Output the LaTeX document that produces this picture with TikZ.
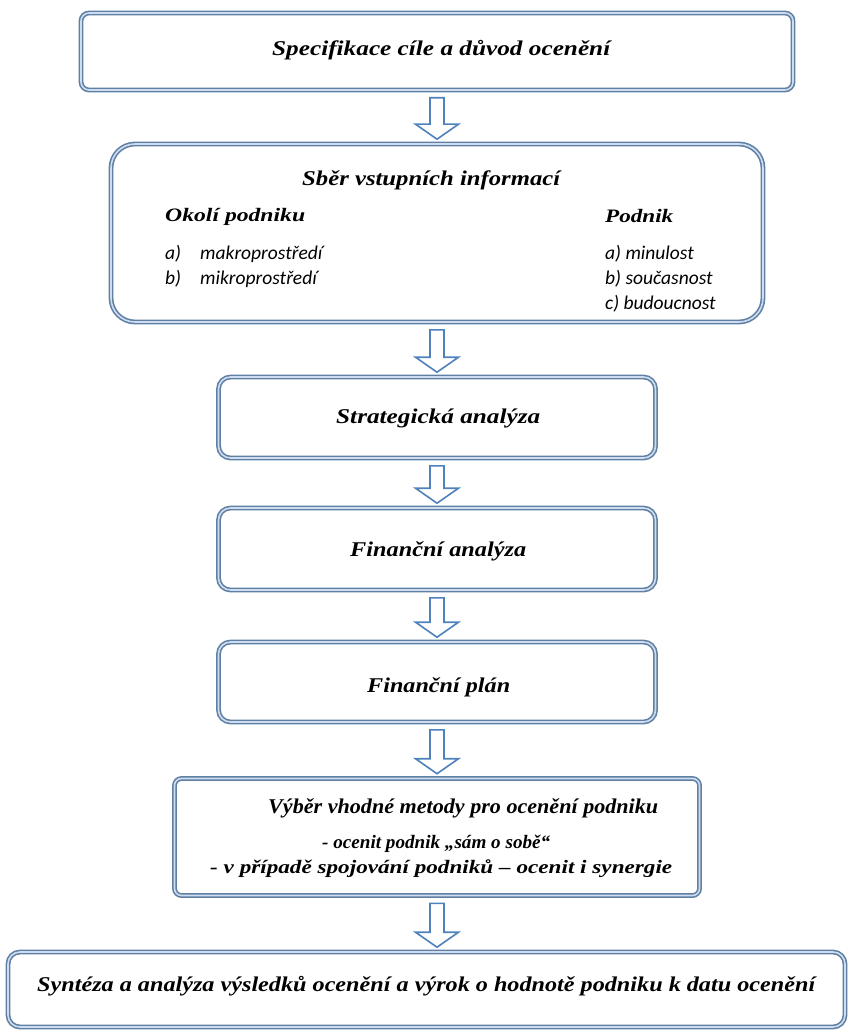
\documentclass[tikz,border=0pt]{standalone}
\usepackage{fontspec}
\usepackage{graphicx}
\setmainfont{Liberation Serif}
\newfontfamily\itemfont{Carlito}
\usetikzlibrary{calc}
\definecolor{bordo}{RGB}{96,128,163}
\definecolor{borli}{RGB}{205,220,240}
\definecolor{arrowblue}{RGB}{79,129,189}
\tikzset{
 box/.style={draw=bordo, double=borli, line width=1.6pt, double distance=1.6pt, fill=white, inner sep=0pt},
 ttl/.style={font=\fontsize{21}{25}\selectfont\bfseries\itshape, inner sep=0pt, anchor=west},
 barrow/.style={draw=arrowblue, line width=1.6pt, fill=white, line join=miter},
 itemtxt/.style={font=\fontsize{19.5}{23}\selectfont\itemfont\itshape, anchor=west, inner sep=0pt},
 subttl/.style={font=\fontsize{19}{22}\selectfont\bfseries\itshape, anchor=west, inner sep=0pt},
 linetxt/.style={font=\fontsize{19}{23}\selectfont\bfseries\itshape, inner sep=0pt, anchor=west},
}
\newcommand{\wfit}[2]{\resizebox{#1pt}{\height}{#2}}
\newcommand{\blockarr}[2]{%
 \draw[barrow] let \p1=(#1.south), \p2=(#2.north) in
   (\x1-7pt,\y1-7pt) -- (\x1-7pt,\y2+19pt) -- (\x1-21.5pt,\y2+19pt)
   -- (\x1,\y2+4pt) -- (\x1+21.5pt,\y2+19pt) -- (\x1+7pt,\y2+19pt)
   -- (\x1+7pt,\y1-7pt) -- cycle;}
\begin{document}
\begin{tikzpicture}[x=1pt,y=-1pt]
\useasboundingbox (0,0) rectangle (849,1030);
% boxes
\node[box, rounded corners=8pt, minimum width=712pt, minimum height=77pt] (b1) at (437,51.5) {};
\node[box, rounded corners=24pt, minimum width=652pt, minimum height=178pt] (b2) at (437,233) {};
\node[box, rounded corners=12pt, minimum width=437pt, minimum height=81pt] (b3) at (437,417.5) {};
\node[box, rounded corners=12pt, minimum width=437pt, minimum height=82pt] (b4) at (437,549) {};
\node[box, rounded corners=12pt, minimum width=437pt, minimum height=80pt] (b5) at (437,682) {};
\node[box, rounded corners=7pt, minimum width=525pt, minimum height=117pt] (b6) at (437,837) {};
\node[box, rounded corners=12pt, minimum width=837pt, minimum height=75pt] (b7) at (426.5,989.5) {};
% titles
\node[ttl] (t1) at (272,50) {\wfit{338}{Specifikace cíle a důvod ocenění}};
\node[ttl] (t2) at (302,180) {\wfit{258}{Sběr vstupních informací}};
\node[ttl] (t3) at (336,418) {\wfit{204}{Strategická analýza}};
\node[ttl] (t4) at (350,551) {\wfit{176}{Finanční analýza}};
\node[ttl] (t5) at (367,687) {\wfit{143}{Finanční plán}};
\node[ttl] (t7) at (37,986) {\wfit{778}{Syntéza a analýza výsledků ocenění a výrok o hodnotě podniku k datu ocenění}};
% texts in big box
\node[subttl] (okoli) at (165,217) {\wfit{140}{Okolí podniku}};
\node[itemtxt] (oa) at (165,254) {a)};
\node[itemtxt] (oat) at (200,254) {makroprostředí};
\node[itemtxt] (ob) at (165,279) {b)};
\node[itemtxt] (obt) at (200,279) {mikroprostředí};
\node[subttl] (podnik) at (605,216) {\wfit{68}{Podnik}};
\node[itemtxt] (pa) at (605,254) {a) minulost};
\node[itemtxt] (pb) at (605,279) {b) současnost};
\node[itemtxt] (pc) at (605,304) {c) budoucnost};
% texts in Vyber box
\node[ttl] (v1) at (268,808) {\wfit{390}{Výběr vhodné metody pro ocenění podniku}};
\node[linetxt] (v2) at (322,844) {\wfit{228}{- ocenit podnik „sám o sobě“}};
\node[linetxt] (v3) at (210,869) {\wfit{462}{- v případě spojování podniků – ocenit i synergie}};
% arrows
\blockarr{b1}{b2}
\blockarr{b2}{b3}
\blockarr{b3}{b4}
\blockarr{b4}{b5}
\blockarr{b5}{b6}
\blockarr{b6}{b7}
\end{tikzpicture}
\end{document}
